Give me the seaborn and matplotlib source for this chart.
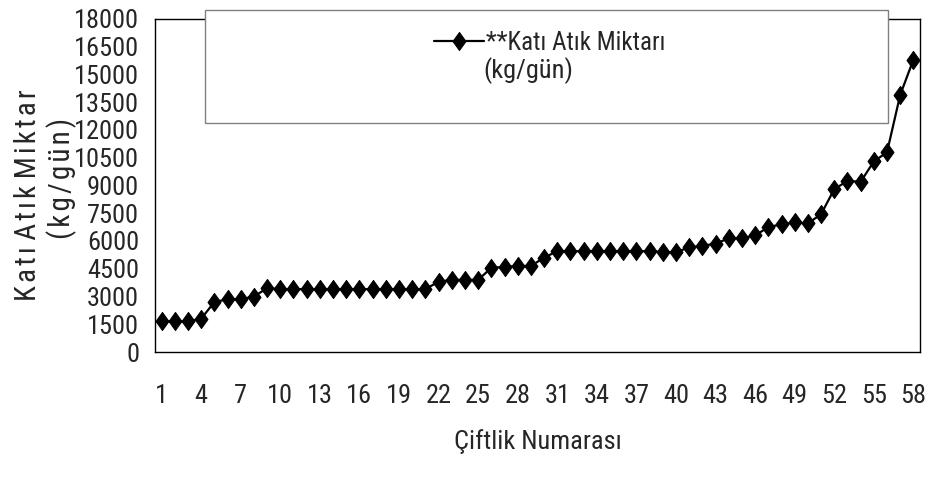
import matplotlib
matplotlib.use("Agg")
import matplotlib.pyplot as plt
from matplotlib.patches import Rectangle
from matplotlib.path import Path
import seaborn as sns
import pandas as pd
import numpy as np

# ---- data ----
farm_no = list(range(1, 59))
waste_kg_day = [
    1650, 1650, 1650, 1800, 2700, 2850, 2850, 3000, 3450, 3400,
    3400, 3400, 3400, 3400, 3400, 3400, 3400, 3400, 3400, 3400,
    3400, 3800, 3900, 3900, 3900, 4550, 4600, 4650, 4650, 5100,
    5450, 5450, 5450, 5450, 5450, 5450, 5450, 5450, 5400, 5400,
    5650, 5750, 5850, 6150, 6150, 6300, 6750, 6900, 7000, 6950,
    7450, 8800, 9250, 9200, 10300, 10800, 13900, 15800,
]
y_ticks = list(range(0, 18001, 1500))
x_label_ticks = list(range(1, 59, 3))
series_label = "**Katı Atık Miktarı"
series_label_2 = "(kg/gün)"
x_title = "Çiftlik Numarası"
HS = "\u200a"
y_title_1 = " ".join(HS.join(w) for w in "Katı Atık Miktar".split(" "))
y_title_2 = HS.join("(kg/gün)")

df = pd.DataFrame({"farm": farm_no, "waste": waste_kg_day})

sns.set_style("white")
plt.rcParams["font.family"] = ["Roboto Condensed", "Liberation Sans", "DejaVu Sans"]
FS = 19

W, H = 929, 480
fig = plt.figure(figsize=(W / 100, H / 100), dpi=100)
L, R, T, B = 155, 920, 19, 352
ax = fig.add_axes([L / W, 1 - B / H, (R - L) / W, (B - T) / H])

diamond = Path([(0, 1), (0.72, 0), (0, -1), (-0.72, 0), (0, 1)],
               [Path.MOVETO, Path.LINETO, Path.LINETO, Path.LINETO, Path.CLOSEPOLY])

sns.lineplot(data=df, x="farm", y="waste", ax=ax, color="black", linewidth=1.6,
             marker=diamond, markersize=13, markerfacecolor="black",
             markeredgecolor="black", label=series_label, legend=False)

ax.set_xlim(0.5, 58.5)
ax.set_ylim(0, 18000)
ax.set_yticks(y_ticks)
ax.set_yticklabels([str(v) for v in y_ticks], fontsize=FS)
ax.set_xticks(x_label_ticks)
ax.set_xticklabels([str(v) for v in x_label_ticks], fontsize=FS)
ax.set_xticks(np.arange(1.5, 58.5, 1.0), minor=True)
ax.tick_params(axis="x", which="major", length=0, pad=23)
ax.tick_params(axis="x", which="minor", length=13, direction="inout", width=1, color="black")
ax.tick_params(axis="y", which="major", length=9, direction="inout", width=1, color="black", pad=7)
for s in ax.spines.values():
    s.set_visible(True)
    s.set_color("black")
    s.set_linewidth(1.0)
ax.grid(False)

ax.set_xlabel(x_title, fontsize=FS, labelpad=15)
ax.set_ylabel("")

fig.text(28 / W, 1 - 195 / H, y_title_1, rotation=90, fontsize=21, ha="center", va="center")
fig.text(62 / W, 1 - 178 / H, y_title_2, rotation=90, fontsize=21, ha="center", va="center")

# legend box
box = Rectangle((205 / W, 1 - 123 / H), (888 - 205) / W, (123 - 10) / H,
                transform=fig.transFigure, facecolor="white", edgecolor="#808080",
                linewidth=1.0, zorder=3)
fig.patches.append(box)
handle = ax.get_lines()[0]
leg = fig.legend(handles=[handle], labels=[series_label], loc="center left",
                 bbox_to_anchor=(422 / W, 1 - 43 / H), frameon=False, fontsize=18,
                 borderpad=0, handlelength=2.0, handletextpad=0.05)
leg.set_zorder(5)
fig.text(483 / W, 1 - 71 / H, series_label_2, fontsize=FS, ha="left", va="center", zorder=6)

fig.savefig("out.png", dpi=100)
